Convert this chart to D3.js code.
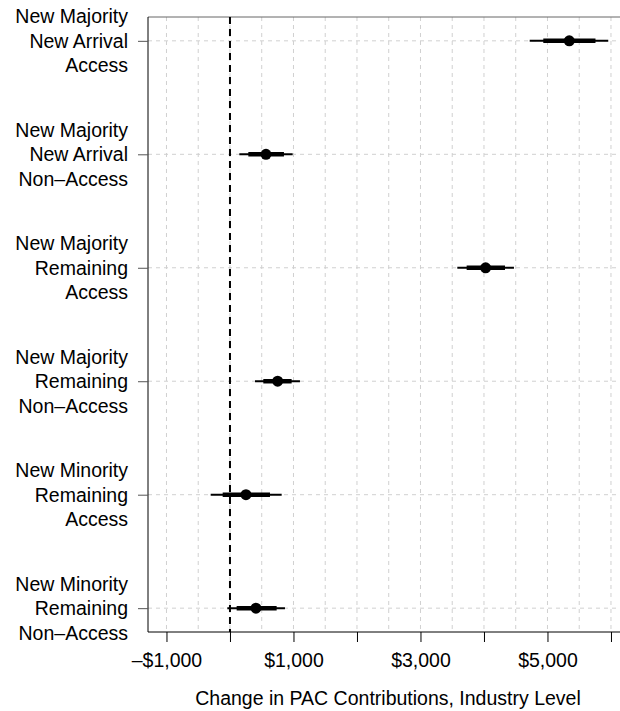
<!DOCTYPE html>
<html>
<head>
<meta charset="utf-8">
<script src="https://cdn.jsdelivr.net/npm/d3@7"></script>
<style>
	body { margin: 0; background: #fff; }
	svg { font-family: "Liberation Sans", Arial, sans-serif; }
</style>
</head>
<body>
<div id="chart_holder"></div>
<script>
//coefficient plot, one row per group. values

var groups = [
	["New Majority", "New Arrival", "Access"],
	["New Majority", "New Arrival", "Non\u2013Access"],
	["New Majority", "Remaining", "Access"],
	["New Majority", "Remaining", "Non\u2013Access"],
	["New Minority", "Remaining", "Access"],
	["New Minority", "Remaining", "Non\u2013Access"]
];
var estimates = [5343, 567, 4026, 751, 252, 409];
var outerLow = [4720, 147, 3580, 394, -304, -42];   //thin line
var outerHigh = [5957, 987, 4472, 1102, 814, 866];
var innerLow = [4934, 289, 3727, 525, -115, 105];   //thick line
var innerHigh = [5756, 850, 4331, 971, 630, 735];
var xTicks = [-1000, 0, 1000, 2000, 3000, 4000, 5000, 6000];
var xTickLabels = [-1000, 1000, 3000, 5000];
var xGrid = d3.range(-1000, 6001, 500);
var xTitle = "Change in PAC Contributions, Industry Level";

//NB: can't call it "top", window.top is read only
var width = 620, height = 711;
var plotLeft = 148, plotRight = 628, plotTop = 17, plotBottom = 632;

var rows = groups.map(function(g, i) {
	return {
		id: i,
		lines: g,
		est: estimates[i],
		lo: outerLow[i], hi: outerHigh[i],
		lo2: innerLow[i], hi2: innerHigh[i]
	};
});

var svg = d3.select("#chart_holder").append("svg")
	.attr("width", width)
	.attr("height", height);

var x = d3.scaleLinear().domain([-1291, 6268]).range([plotLeft, plotRight]);
var y = d3.scalePoint().domain(rows.map(function(d) { return d.id; }))
	.range([plotTop, plotBottom]).padding(0.21);

//money formatting, R style minus
function money(v) {
	var s = "$" + d3.format(",")(Math.abs(v));
	return v < 0 ? "\u2013" + s : s;
}

//grid first so everything sits on top
svg.append("g").selectAll("line")
	.data(xGrid)
	.enter().append("line")
		.attr("x1", function(d) { return x(d); })
		.attr("x2", function(d) { return x(d); })
		.attr("y1", plotTop)
		.attr("y2", plotBottom)
		.attr("stroke", "#d0d0d0")
		.attr("stroke-width", 1)
		.attr("stroke-dasharray", "4,4");

svg.append("g").selectAll("line")
	.data(rows)
	.enter().append("line")
		.attr("x1", plotLeft)
		.attr("x2", plotRight)
		.attr("y1", function(d) { return y(d.id); })
		.attr("y2", function(d) { return y(d.id); })
		.attr("stroke", "#d0d0d0")
		.attr("stroke-width", 1)
		.attr("stroke-dasharray", "4,4");

//box top edge is grey
svg.append("line")
	.attr("x1", plotLeft).attr("x2", plotRight)
	.attr("y1", plotTop).attr("y2", plotTop)
	.attr("stroke", "#666")
	.attr("stroke-width", 1);

//zero reference
svg.append("line")
	.attr("x1", x(0)).attr("x2", x(0))
	.attr("y1", plotTop).attr("y2", plotBottom)
	.attr("stroke", "#000")
	.attr("stroke-width", 2)
	.attr("stroke-dasharray", "7,5");

//axes
var xAxis = d3.axisBottom(x)
	.tickValues(xTicks)
	.tickSize(10)
	.tickFormat(function(d) { return xTickLabels.indexOf(d) >= 0 ? money(d) : ""; });

var gx = svg.append("g")
	.attr("transform", "translate(0," + plotBottom + ")")
	.call(xAxis);
gx.select(".domain").attr("d", "M" + plotLeft + ",0H" + plotRight).attr("stroke", "#000");
gx.selectAll(".tick line").attr("stroke", "#000");
gx.selectAll(".tick text")
	.attr("y", 21)
	.attr("dy", "0.71em")
	.attr("fill", "#000")
	.style("font-size", "19.5px")
	.style("font-family", "Liberation Sans, Arial, sans-serif");

var yAxis = d3.axisLeft(y).tickSize(10).tickFormat("");
var gy = svg.append("g")
	.attr("transform", "translate(" + plotLeft + ",0)")
	.call(yAxis);
gy.select(".domain").attr("d", "M0," + plotTop + "V" + plotBottom).attr("stroke", "#000");
gy.selectAll(".tick line").attr("stroke", "#555");

//three line labels, right aligned
var lab = svg.append("g").selectAll("text")
	.data(rows)
	.enter().append("text")
		.attr("text-anchor", "end")
		.attr("font-size", "19.5px")
		.attr("fill", "#000")
		.attr("transform", function(d) { return "translate(128," + y(d.id) + ")"; });

lab.selectAll("tspan")
	.data(function(d) { return d.lines; })
	.enter().append("tspan")
		.attr("x", 0)
		.attr("y", function(d, i) { return (i - 1) * 24.5; })
		.attr("dy", "0.36em")
		.text(function(d) { return d; });

//intervals
var marks = svg.append("g");

marks.selectAll(".outer")
	.data(rows)
	.enter().append("line")
		.attr("class", "outer")
		.attr("x1", function(d) { return x(d.lo); })
		.attr("x2", function(d) { return x(d.hi); })
		.attr("y1", function(d) { return y(d.id); })
		.attr("y2", function(d) { return y(d.id); })
		.attr("stroke", "#000")
		.attr("stroke-width", 2);

marks.selectAll(".inner")
	.data(rows)
	.enter().append("line")
		.attr("class", "inner")
		.attr("x1", function(d) { return x(d.lo2); })
		.attr("x2", function(d) { return x(d.hi2); })
		.attr("y1", function(d) { return y(d.id); })
		.attr("y2", function(d) { return y(d.id); })
		.attr("stroke", "#000")
		.attr("stroke-width", 4.5);

marks.selectAll("circle")
	.data(rows)
	.enter().append("circle")
		.attr("cx", function(d) { return x(d.est); })
		.attr("cy", function(d) { return y(d.id); })
		.attr("r", 5.5)
		.attr("fill", "#000");

svg.append("text")
	.attr("x", (plotLeft + plotRight) / 2)
	.attr("y", 705)
	.attr("text-anchor", "middle")
	.attr("font-size", "19.5px")
	.attr("fill", "#000")
	.text(xTitle);
</script>
</body>
</html>
